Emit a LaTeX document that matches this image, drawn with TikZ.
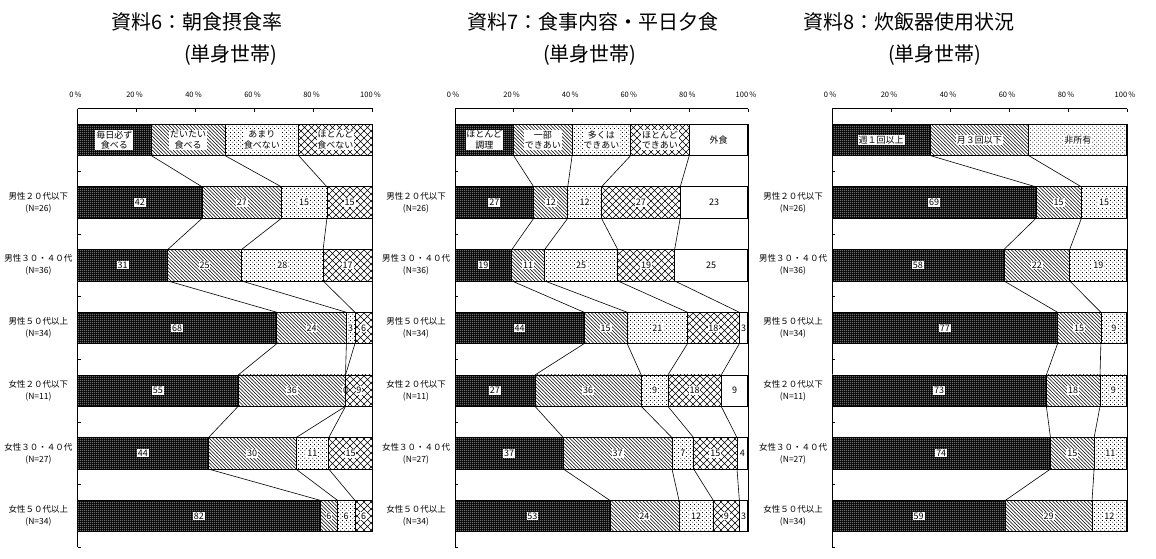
\documentclass[tikz,border=0pt]{standalone}
\usepackage{fontspec}
\setmainfont{Noto Sans CJK JP}
\usetikzlibrary{patterns}
\pgfdeclarepatternformonly{wdots}{\pgfqpoint{0pt}{0pt}}{\pgfqpoint{2pt}{2pt}}{\pgfqpoint{2pt}{2pt}}{%
  \pgfpathrectangle{\pgfqpoint{0.5pt}{0.5pt}}{\pgfqpoint{1pt}{1pt}}\pgfusepath{fill}}
\pgfdeclarepatternformonly{sdots}{\pgfqpoint{0pt}{0pt}}{\pgfqpoint{4pt}{4pt}}{\pgfqpoint{4pt}{4pt}}{%
  \pgfpathrectangle{\pgfqpoint{0.5pt}{0.5pt}}{\pgfqpoint{0.9pt}{0.9pt}}%
  \pgfpathrectangle{\pgfqpoint{2.5pt}{2.5pt}}{\pgfqpoint{0.9pt}{0.9pt}}\pgfusepath{fill}}
\pgfdeclarepatternformonly{nwl}{\pgfqpoint{-1pt}{-1pt}}{\pgfqpoint{4.5pt}{4.5pt}}{\pgfqpoint{3.5pt}{3.5pt}}{%
  \pgfsetlinewidth{0.55pt}\pgfpathmoveto{\pgfqpoint{-0.1pt}{3.6pt}}\pgfpathlineto{\pgfqpoint{3.6pt}{-0.1pt}}\pgfusepath{stroke}}
\pgfdeclarepatternformonly{dxh}{\pgfqpoint{-1pt}{-1pt}}{\pgfqpoint{8pt}{8pt}}{\pgfqpoint{7pt}{7pt}}{%
  \pgfsetlinewidth{0.5pt}\pgfpathmoveto{\pgfqpoint{-0.1pt}{-0.1pt}}\pgfpathlineto{\pgfqpoint{7.1pt}{7.1pt}}%
  \pgfpathmoveto{\pgfqpoint{-0.1pt}{7.1pt}}\pgfpathlineto{\pgfqpoint{7.1pt}{-0.1pt}}\pgfusepath{stroke}}
\tikzset{
  bord/.style={draw=black, line width=0.8pt},
  seg1/.style={bord, preaction={fill=black}, pattern=wdots, pattern color=white},
  seg2/.style={bord, pattern=nwl, pattern color=black},
  seg3/.style={bord, pattern=sdots, pattern color=black},
  seg4/.style={bord, pattern=dxh, pattern color=black},
  seg5/.style={bord, fill=white},
  lab/.style={fill=white, inner sep=0.9pt, align=center, font=\fontsize{9}{10.5}\selectfont},
  pct/.style={font=\fontsize{7.5}{8}\selectfont, inner sep=0pt},
  cat/.style={font=\fontsize{8.5}{12}\selectfont, align=center, inner sep=0pt},
  ttl/.style={font=\fontsize{20}{24}\selectfont, anchor=west, inner sep=0pt},
  axis/.style={draw=black, line width=0.8pt},
  serline/.style={draw=black, line width=0.6pt},
}
\def\BT{108.5}\def\BP{62.7}\def\BH{31.35}
\newcommand\barrow[4]{%
  \pgfmathsetmacro\ycc{\BT+\BP*(#3+0.5)}%
  \pgfmathsetmacro\yaa{\ycc-\BH/2}%
  \pgfmathsetmacro\ybb{\ycc+\BH/2}%
  \foreach \bv/\lbl [count=\kk, remember=\bv as \pv (initially 0)] in {#4} {%
    \pgfmathsetmacro\xaa{#2+\pv*0.01*\BW}%
    \pgfmathsetmacro\xbb{#2+\bv*0.01*\BW}%
    \pgfmathsetmacro\xmm{(\xaa+\xbb)/2}%
    \edef\segpath{\noexpand\path[seg\kk]}%
    \segpath (\xaa,\yaa) rectangle (\xbb,\ybb);
    \coordinate (ct-#1-#3-\kk) at (\xbb,\yaa);
    \coordinate (cb-#1-#3-\kk) at (\xbb,\ybb);
    \node[lab] (lab-#1-#3-\kk) at (\xmm,\ycc) {\lbl};
  }%
}
\newcommand\axes[2]{%
  \pgfmathsetmacro\xr{#2+\BW}%
  \pgfmathsetmacro\yend{\BT+7*\BP}%
  \pgfmathsetmacro\ytop{\BT+\BP*0.5-\BH/2}%
  \pgfmathsetmacro\ybot{\BT+\BP*6.5+\BH/2}%
  \draw[axis] (#2,\BT) -- (\xr,\BT);
  \draw[axis] (#2,\BT) -- (#2,\yend);
  \draw[axis] (\xr,\ytop) -- (\xr,\ybot);
  \foreach \kk in {0,...,5} {%
    \pgfmathsetmacro\xt{#2+\kk*0.2*\BW}%
    \pgfmathtruncatemacro\pc{20*\kk}%
    \draw[axis] (\xt,\BT) -- ++(0,3);
    \node[pct] (pct-#1-\kk) at (\xt-2,95) {\pc\,\%};
  }%
  \foreach \kk in {1,...,7} {\draw[axis] (#2,{\BT+\kk*\BP}) -- ++(3,0);}%
}
\newcommand\cats[2]{%
  \foreach \cl [count=\rr] in {男性２０代以下\\(N=26), 男性３０・４０代\\(N=36), 男性５０代以上\\(N=34), 女性２０代以下\\(N=11), 女性３０・４０代\\(N=27), 女性５０代以上\\(N=34)} {%
    \node[cat] (cat-#1-\rr) at ({#2-39}, {\BT+\BP*(\rr+0.5)}) {\cl};
  }%
}
\newcommand\serlines[2]{%
  \foreach \rr [evaluate=\rr as \rn using int(\rr+1)] in {0,...,5} {%
    \foreach \kk in {1,...,#2} {\draw[serline] (cb-#1-\rr-\kk) -- (ct-#1-\rn-\kk);}%
  }%
}
\begin{document}
\begin{tikzpicture}[x=1pt,y=-1pt]
\fill[white] (0,0) rectangle (1156,558);
\useasboundingbox (0,0) rectangle (1156,558);
% titles
\node[ttl] (title1) at (111,22) {資料6：朝食摂食率};
\node[ttl] (title1b) at (184,55) {(単身世帯)};
\node[ttl] (title2) at (467,22) {資料7：食事内容・平日夕食};
\node[ttl] (title2b) at (543,55) {(単身世帯)};
\node[ttl] (title3) at (803,22) {資料8：炊飯器使用状況};
\node[ttl] (title3b) at (888,55) {(単身世帯)};
% chart 1
\def\BW{295}
\axes{a}{77.5}
\barrow{a}{77.5}{0}{25/毎日必ず\\食べる, 50/だいたい\\食べる, 75/あまり\\食べない, 100/ほとんど\\食べない}
\barrow{a}{77.5}{1}{42.3/42, 69.2/27, 84.6/15, 100/15}
\barrow{a}{77.5}{2}{30.6/31, 55.6/25, 83.3/28, 100/17}
\barrow{a}{77.5}{3}{67.6/68, 91.2/24, 94.1/3, 100/6}
\barrow{a}{77.5}{4}{54.5/55, 90.9/36, 90.9/0, 100/9}
\barrow{a}{77.5}{5}{44.4/44, 74.1/30, 85.2/11, 100/15}
\barrow{a}{77.5}{6}{82.4/82, 88.2/6, 94.1/6, 100/6}
\serlines{a}{3}
\cats{a}{77.5}
% chart 2
\def\BW{293}
\axes{b}{455}
\barrow{b}{455}{0}{20/ほとんど\\調理, 40/一部\\できあい, 60/多くは\\できあい, 80/ほとんど\\できあい, 100/外食}
\barrow{b}{455}{1}{26.9/27, 38.5/12, 50/12, 76.9/27, 100/23}
\barrow{b}{455}{2}{19.4/19, 30.6/11, 55.6/25, 75/19, 100/25}
\barrow{b}{455}{3}{44.1/44, 58.8/15, 79.4/21, 97.1/18, 100/3}
\barrow{b}{455}{4}{27.3/27, 63.6/36, 72.7/9, 90.9/18, 100/9}
\barrow{b}{455}{5}{37/37, 74.1/37, 81.5/7, 96.3/15, 100/4}
\barrow{b}{455}{6}{52.9/53, 76.5/24, 88.2/12, 97.1/9, 100/3}
\serlines{b}{4}
\cats{b}{455}
% chart 3
\def\BW{295}
\axes{c}{832}
\barrow{c}{832}{0}{33.3/週１回以上, 66.7/月３回以下, 100/非所有}
\barrow{c}{832}{1}{69.2/69, 84.6/15, 100/15}
\barrow{c}{832}{2}{58.3/58, 80.6/22, 100/19}
\barrow{c}{832}{3}{76.5/77, 91.2/15, 100/9}
\barrow{c}{832}{4}{72.7/73, 90.9/18, 100/9}
\barrow{c}{832}{5}{74.1/74, 88.9/15, 100/11}
\barrow{c}{832}{6}{58.8/59, 88.2/29, 100/12}
\serlines{c}{2}
\cats{c}{832}
\end{tikzpicture}
\end{document}
